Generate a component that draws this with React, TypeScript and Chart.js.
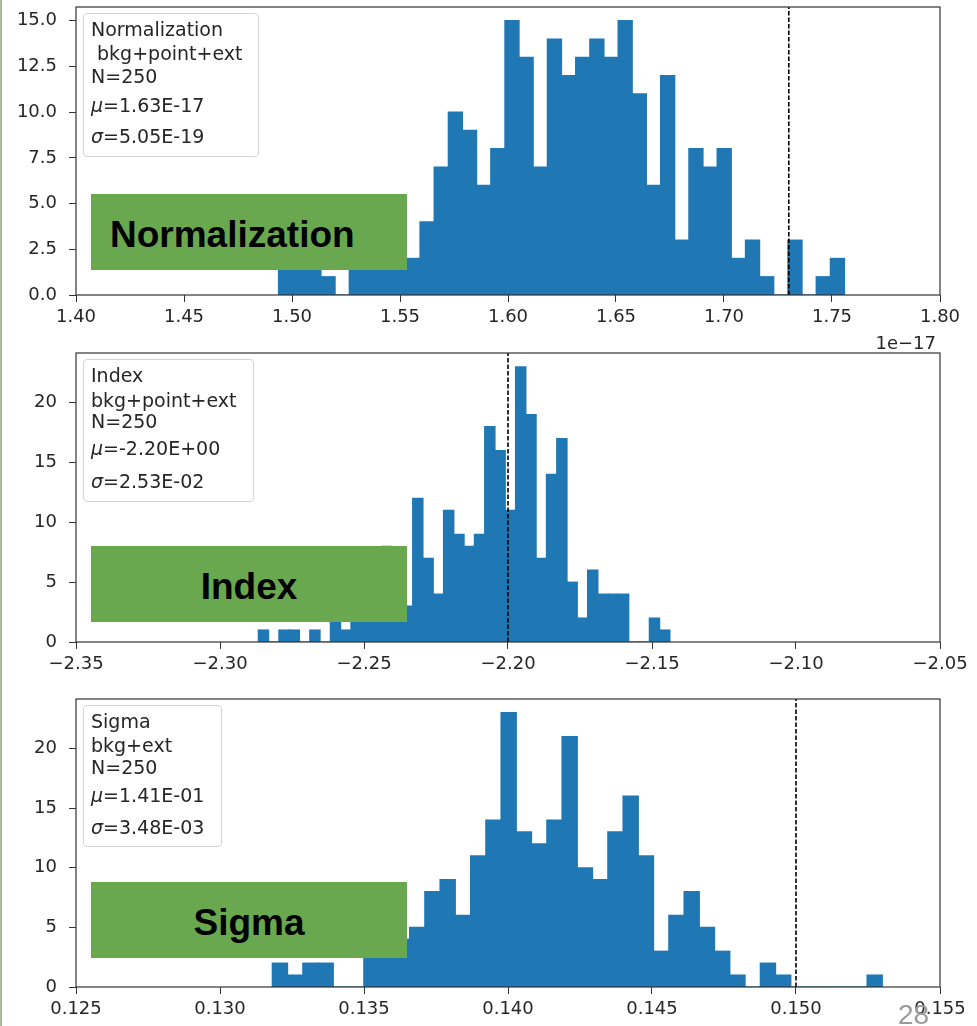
import React, { useEffect, useRef } from 'react';
import { Chart, registerables } from 'chart.js';

Chart.register(...registerables);

// ---------------- data ----------------
// Panel 1: Normalization (x in units of 1e-17)
const normBinStart = 1.49375;
const normBinWidth = 0.0065509;
const normCounts = [2, 3, 2, 1, 0, 2, 3, 4, 4, 2, 4, 7, 10, 9, 6, 8, 15, 13, 7, 14, 12, 13, 14, 13, 15, 11, 6, 12, 3, 8, 7, 8, 2, 3, 1, 0, 3, 0, 1, 2];
const normRef = 1.73;
const normXTicks = [1.4, 1.45, 1.5, 1.55, 1.6, 1.65, 1.7, 1.75, 1.8];
const normXLabels = ['1.40', '1.45', '1.50', '1.55', '1.60', '1.65', '1.70', '1.75', '1.80'];
const normYTicks = [0, 2.5, 5, 7.5, 10, 12.5, 15];
const normYLabels = ['0.0', '2.5', '5.0', '7.5', '10.0', '12.5', '15.0'];
const normYMax = 15.75;
const normLegend = ['Normalization', ' bkg+point+ext', 'N=250', '=1.63E-17', '=5.05E-19'];

// Panel 2: Index
const indexBinStart = -2.2867;
const indexBinWidth = 0.003573;
const indexCounts = [1, 0, 1, 1, 0, 1, 0, 3, 1, 4, 4, 5, 8, 5, 3, 12, 7, 4, 11, 9, 8, 9, 18, 16, 11, 23, 19, 7, 14, 17, 5, 2, 6, 4, 4, 4, 0, 0, 2, 1];
const indexRef = -2.2;
const indexXTicks = [-2.35, -2.3, -2.25, -2.2, -2.15, -2.1, -2.05];
const indexXLabels = ['\u22122.35', '\u22122.30', '\u22122.25', '\u22122.20', '\u22122.15', '\u22122.10', '\u22122.05'];
const countYTicks = [0, 5, 10, 15, 20];
const countYLabels = ['0', '5', '10', '15', '20'];
const indexYMax = 24.15;
const indexLegend = ['Index', 'bkg+point+ext', 'N=250', '=-2.20E+00', '=2.53E-02'];

// Panel 3: Sigma
const sigmaBinStart = 0.131816;
const sigmaBinWidth = 0.00052953;
const sigmaCounts = [2, 1, 2, 2, 0, 0, 7, 7, 4, 5, 8, 9, 6, 11, 14, 23, 13, 12, 14, 21, 10, 9, 13, 16, 11, 3, 6, 8, 5, 3, 1, 0, 2, 1, 0, 0, 0, 0, 0, 1];
const sigmaRef = 0.15;
const sigmaXTicks = [0.125, 0.13, 0.135, 0.14, 0.145, 0.15, 0.155];
const sigmaXLabels = ['0.125', '0.130', '0.135', '0.140', '0.145', '0.150', '0.155'];
const sigmaYMax = 24.15;
const sigmaLegend = ['Sigma', 'bkg+ext', 'N=250', '=1.41E-01', '=3.48E-03'];

// ---------------- styles ----------------
const BAR = '#1f77b4';
const AXIS = '#333333';
const TEXT = '#262626';
const GREEN = '#6aa84f';

const framePlugin = {
  id: 'frame',
  afterDraw(chart: any) {
    const { ctx, chartArea: a } = chart;
    ctx.save();
    ctx.strokeStyle = AXIS;
    ctx.lineWidth = 1.2;
    ctx.strokeRect(a.left, a.top, a.right - a.left, a.bottom - a.top);
    ctx.restore();
  },
};

type PanelProps = {
  top: number;
  height: number;
  topPad: number;
  xAxisH: number;
  binStart: number;
  binWidth: number;
  counts: number[];
  refValue: number;
  xTicks: number[];
  xLabels: string[];
  yTicks: number[];
  yLabels: string[];
  yMax: number;
};

function HistPanel(p: PanelProps) {
  const ref = useRef<HTMLCanvasElement>(null);
  useEffect(() => {
    const xMin = p.xTicks[0];
    const xMax = p.xTicks[p.xTicks.length - 1];
    const chart = new Chart(ref.current as HTMLCanvasElement, {
      type: 'bar',
      data: {
        datasets: [
          {
            type: 'line',
            data: [
              { x: p.refValue, y: 0 },
              { x: p.refValue, y: p.yMax },
            ],
            borderColor: '#000000',
            borderWidth: 1.6,
            borderDash: [4.5, 2],
            pointRadius: 0,
            order: 0,
          },
          {
            type: 'bar',
            data: p.counts.map((c, i) => ({ x: p.binStart + (i + 0.5) * p.binWidth, y: c })),
            backgroundColor: BAR,
            borderWidth: 0,
            inflateAmount: 0.6,
            barPercentage: 1,
            categoryPercentage: 1,
            grouped: false,
            order: 1,
          },
        ],
      } as any,
      options: {
        animation: false,
        responsive: false,
        maintainAspectRatio: false,
        layout: { padding: { left: 0, right: 37, top: p.topPad, bottom: 0 } },
        plugins: { legend: { display: false }, tooltip: { enabled: false } },
        scales: {
          x: {
            type: 'linear',
            min: xMin,
            max: xMax,
            offset: false,
            afterBuildTicks: (s: any) => {
              s.ticks = p.xTicks.map((v) => ({ value: v }));
            },
            afterFit: (s: any) => {
              s.height = p.xAxisH;
              s.paddingLeft = 0;
              s.paddingRight = 0;
              s.paddingTop = 0;
              s.paddingBottom = 0;
            },
            ticks: {
              callback: (_v: any, i: number) => p.xLabels[i],
              color: TEXT,
              font: { family: 'DejaVu Sans', size: 18 },
              padding: 5,
              maxRotation: 0,
              autoSkip: false,
            },
            grid: { display: true, drawOnChartArea: false, drawTicks: true, tickLength: 7, tickColor: AXIS, offset: false },
            border: { display: false },
          },
          y: {
            type: 'linear',
            min: 0,
            max: p.yMax,
            afterBuildTicks: (s: any) => {
              s.ticks = p.yTicks.map((v) => ({ value: v }));
            },
            afterFit: (s: any) => {
              s.width = 76;
              s.paddingTop = 0;
              s.paddingBottom = 0;
              s.paddingLeft = 0;
              s.paddingRight = 0;
            },
            ticks: {
              callback: (_v: any, i: number) => p.yLabels[i],
              color: TEXT,
              font: { family: 'DejaVu Sans', size: 18 },
              padding: 12,
              autoSkip: false,
            },
            grid: { display: true, drawOnChartArea: false, drawTicks: true, tickLength: 7, tickColor: AXIS },
            border: { display: false },
          },
        },
      } as any,
      plugins: [framePlugin],
    });
    return () => chart.destroy();
  }, []);
  return (
    <canvas
      ref={ref}
      width={977}
      height={p.height}
      style={{ position: 'absolute', left: 0, top: p.top, width: 977, height: p.height }}
    />
  );
}

// legend box (matplotlib-like text box)
function StatBox(props: { left: number; top: number; width: number; height: number; lines: string[]; baselines: number[] }) {
  const F = 19;
  const off = 16.07; // baseline offset for DejaVu Sans 19px with line-height 19px
  const lineStyle = (b: number): React.CSSProperties => ({
    position: 'absolute',
    left: 91,
    top: b - off,
    fontFamily: 'DejaVu Sans',
    fontSize: F,
    lineHeight: F + 'px',
    color: TEXT,
    whiteSpace: 'pre',
  });
  const [l0, l1, l2, l3, l4] = props.lines;
  const [b0, b1, b2, b3, b4] = props.baselines;
  return (
    <>
      <div
        style={{
          position: 'absolute',
          left: props.left,
          top: props.top,
          width: props.width,
          height: props.height,
          border: '1px solid #d4d4d4',
          borderRadius: 4,
          background: 'rgba(255,255,255,0.85)',
          boxSizing: 'border-box',
        }}
      />
      <div style={lineStyle(b0)}>{l0}</div>
      <div style={lineStyle(b1)}>{l1}</div>
      <div style={lineStyle(b2)}>{l2}</div>
      <div style={lineStyle(b3)}>
        <i>{'\u03bc'}</i>
        {l3}
      </div>
      <div style={lineStyle(b4)}>
        <i>{'\u03c3'}</i>
        {l4}
      </div>
    </>
  );
}

function GreenLabel(props: { top: number; text: string; align: 'left' | 'center' }) {
  const F = 37;
  return (
    <div
      style={{
        position: 'absolute',
        left: 91,
        top: props.top,
        width: 316,
        height: 76,
        background: GREEN,
      }}
    >
      <div
        style={{
          position: 'absolute',
          left: props.align === 'left' ? 19 : 0,
          width: props.align === 'left' ? 297 : 316,
          top: 53.5 - 31.3,
          fontFamily: 'Liberation Sans, Arial, sans-serif',
          fontWeight: 'bold',
          fontSize: F,
          lineHeight: F + 'px',
          color: '#000',
          textAlign: props.align,
          whiteSpace: 'nowrap',
        }}
      >
        {props.text}
      </div>
    </div>
  );
}

export default function App() {
  return (
    <div style={{ position: 'absolute', left: 0, top: 0, width: 977, height: 1026, background: '#fff', overflow: 'hidden' }}>
      <div style={{ position: 'absolute', left: 0, top: 0, width: 2, height: 1026, background: '#a9b79c' }} />
      <HistPanel
        top={0}
        height={345}
        topPad={7}
        xAxisH={50}
        binStart={normBinStart}
        binWidth={normBinWidth}
        counts={normCounts}
        refValue={normRef}
        xTicks={normXTicks}
        xLabels={normXLabels}
        yTicks={normYTicks}
        yLabels={normYLabels}
        yMax={normYMax}
      />
      <HistPanel
        top={345}
        height={345}
        topPad={8}
        xAxisH={48}
        binStart={indexBinStart}
        binWidth={indexBinWidth}
        counts={indexCounts}
        refValue={indexRef}
        xTicks={indexXTicks}
        xLabels={indexXLabels}
        yTicks={countYTicks}
        yLabels={countYLabels}
        yMax={indexYMax}
      />
      <HistPanel
        top={690}
        height={336}
        topPad={9}
        xAxisH={39}
        binStart={sigmaBinStart}
        binWidth={sigmaBinWidth}
        counts={sigmaCounts}
        refValue={sigmaRef}
        xTicks={sigmaXTicks}
        xLabels={sigmaXLabels}
        yTicks={countYTicks}
        yLabels={countYLabels}
        yMax={sigmaYMax}
      />

      {/* offset text */}
      <div
        style={{
          position: 'absolute',
          left: 836,
          width: 100,
          top: 349 - 15.2,
          textAlign: 'right',
          fontFamily: 'DejaVu Sans',
          fontSize: 18,
          lineHeight: '18px',
          color: TEXT,
        }}
      >
        {'1e\u221217'}
      </div>

      <StatBox left={83} top={13} width={176} height={144} lines={normLegend} baselines={[35.7, 60, 83.3, 111.7, 143.3]} />
      <StatBox left={83} top={359} width={171} height={143} lines={indexLegend} baselines={[381.7, 406.7, 428.3, 455, 487.7]} />
      <StatBox left={83} top={705} width={139} height={142} lines={sigmaLegend} baselines={[728.3, 751.7, 774, 801.7, 834]} />

      <GreenLabel top={194} text="Normalization" align="left" />
      <GreenLabel top={546} text="Index" align="center" />
      <GreenLabel top={882} text="Sigma" align="center" />

      <div
        style={{
          position: 'absolute',
          left: 898,
          top: 1001,
          fontFamily: 'Liberation Sans, Arial, sans-serif',
          fontSize: 28,
          lineHeight: '28px',
          color: '#9a9a9a',
        }}
      >
        28
      </div>
    </div>
  );
}
